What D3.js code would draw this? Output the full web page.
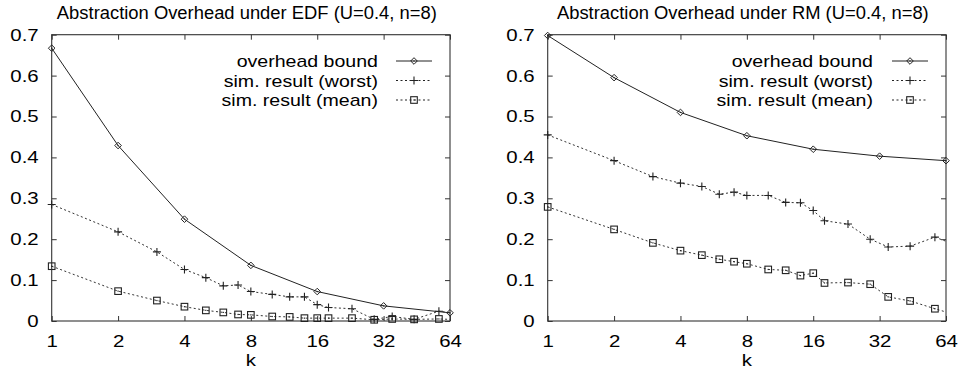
<!DOCTYPE html>
<html><head><meta charset="utf-8">
<script src="https://cdn.jsdelivr.net/npm/d3@7/dist/d3.min.js"></script>
<style>
body{margin:0;background:#fff}
svg{display:block}
text{font-family:"Liberation Sans",Arial,Helvetica,sans-serif;fill:#000}
</style>
</head><body>
<svg id="c" width="960" height="371"></svg>
<script>
// ---- data ----
const kTicks = [1, 2, 4, 8, 16, 32, 64];
const yTicks = [0, 0.1, 0.2, 0.3, 0.4, 0.5, 0.6, 0.7];
const boundK = [1, 2, 4, 8, 16, 32, 64];
const simK = [1, 2, 3, 4, 5, 6, 7, 8, 10, 12, 14, 16, 18, 23, 29, 35, 44, 57, 64];

const edfBound = [0.667, 0.429, 0.249, 0.136, 0.072, 0.037, 0.020];
const edfWorst = [0.285, 0.218, 0.169, 0.126, 0.106, 0.086, 0.088, 0.072, 0.065, 0.059, 0.059, 0.040, 0.033, 0.030, 0.004, 0.011, 0.004, 0.024, 0.020];
const edfMean  = [0.134, 0.073, 0.050, 0.035, 0.026, 0.021, 0.016, 0.015, 0.011, 0.010, 0.007, 0.007, 0.007, 0.007, 0.003, 0.005, 0.004, 0.005, 0.004];

const rmBound = [0.698, 0.595, 0.510, 0.453, 0.420, 0.403, 0.392];
const rmWorst = [0.455, 0.392, 0.353, 0.337, 0.329, 0.310, 0.315, 0.307, 0.307, 0.290, 0.289, 0.270, 0.245, 0.237, 0.200, 0.181, 0.183, 0.205, 0.195];
const rmMean  = [0.279, 0.224, 0.191, 0.172, 0.161, 0.151, 0.145, 0.140, 0.126, 0.124, 0.111, 0.117, 0.093, 0.094, 0.090, 0.059, 0.049, 0.030, 0.022];

const titles = ["Abstraction Overhead under EDF (U=0.4, n=8)", "Abstraction Overhead under RM (U=0.4, n=8)"];
const legendLabels = ["overhead bound", "sim. result (worst)", "sim. result (mean)"];
const xLabel = "k";

// ---- drawing ----
const svg = d3.select("#c");
const panels = [
  {left: 51.7, right: 450, title: titles[0], bound: edfBound, worst: edfWorst, mean: edfMean, legTextRight: 378, legLine: [396, 432]},
  {left: 547.7, right: 946, title: titles[1], bound: rmBound, worst: rmWorst, mean: rmMean, legTextRight: 873, legLine: [892, 928]}
];
const plotTop = 34.7, plotBottom = 321;

function stretch(sel, f) {
  sel.each(function() {
    const w = this.getComputedTextLength();
    d3.select(this).attr("textLength", w * f).attr("lengthAdjust", "spacingAndGlyphs");
  });
}

function marker(g, type, x, y) {
  const c = "#222";
  if (type === "diamond") {
    g.append("path").attr("d", `M${x},${y-3.3}L${x+3.3},${y}L${x},${y+3.3}L${x-3.3},${y}Z`)
      .attr("fill", "none").attr("stroke", c).attr("stroke-width", 1);
    g.append("rect").attr("x", x-0.6).attr("y", y-0.6).attr("width", 1.2).attr("height", 1.2).attr("fill", c);
  } else if (type === "plus") {
    g.append("path").attr("d", `M${x-4},${y}H${x+4}M${x},${y-4}V${y+4}`)
      .attr("stroke", c).attr("stroke-width", 1.1).attr("fill", "none");
  } else {
    g.append("rect").attr("x", x-3.3).attr("y", y-3.3).attr("width", 6.6).attr("height", 6.6)
      .attr("fill", "none").attr("stroke", c).attr("stroke-width", 1.1);
    g.append("rect").attr("x", x-0.6).attr("y", y-0.6).attr("width", 1.2).attr("height", 1.2).attr("fill", c);
  }
}

panels.forEach(p => {
  const x = d3.scaleLog().base(2).domain([1, 64]).range([p.left, p.right]);
  const y = d3.scaleLinear().domain([0, 0.7]).range([plotBottom, plotTop]);
  const g = svg.append("g");

  // title
  const tt = g.append("text").attr("x", (p.left + p.right) / 2 - 4).attr("y", 19)
    .attr("text-anchor", "middle").style("font-size", "17.5px").text(p.title);
  stretch(tt, 1.05);

  // axes (inward ticks on all sides)
  const ax = g.append("g").attr("transform", `translate(0,${plotBottom})`)
    .call(d3.axisBottom(x).tickValues(kTicks).tickFormat(d3.format("d")).tickSizeInner(-5).tickSizeOuter(0).tickPadding(14));
  const ay = g.append("g").attr("transform", `translate(${p.left},0)`)
    .call(d3.axisLeft(y).tickValues(yTicks).tickFormat(d => d === 0 ? "0" : d3.format(".1f")(d)).tickSizeInner(-5).tickSizeOuter(0).tickPadding(13));
  const at = g.append("g").attr("transform", `translate(0,${plotTop})`)
    .call(d3.axisTop(x).tickValues(kTicks).tickFormat("").tickSizeInner(-5).tickSizeOuter(0));
  const ar = g.append("g").attr("transform", `translate(${p.right},0)`)
    .call(d3.axisRight(y).tickValues(yTicks).tickFormat("").tickSizeInner(-5).tickSizeOuter(0));
  [ax, ay, at, ar].forEach(a => {
    a.select(".domain").remove();
    a.selectAll(".tick line").attr("stroke", "#333");
  });
  [ax, ay].forEach(a => a.selectAll("text").style("font-size", "17px").attr("fill", "#000")
    .style("font-family", '"Liberation Sans",Arial,sans-serif'));
  stretch(ax.selectAll("text"), 1.2);
  stretch(ay.selectAll("text"), 1.2);

  // frame
  g.append("rect").attr("x", p.left).attr("y", plotTop).attr("width", p.right - p.left).attr("height", plotBottom - plotTop)
    .attr("fill", "none").attr("stroke", "#333").attr("stroke-width", 1.1);

  // x label
  const xl = g.append("text").attr("x", x(8)).attr("y", 366).attr("text-anchor", "middle")
    .style("font-size", "17px").text(xLabel);
  stretch(xl, 1.2);

  // lines
  const line = d3.line().x(d => x(d[0])).y(d => y(d[1]));
  const worstPts = simK.map((k, i) => [k, p.worst[i]]);
  const meanPts = simK.map((k, i) => [k, p.mean[i]]);
  const boundPts = boundK.map((k, i) => [k, p.bound[i]]);
  g.append("path").attr("d", line(meanPts)).attr("fill", "none").attr("stroke", "#333").attr("stroke-width", 1).attr("stroke-dasharray", "2,2.5");
  g.append("path").attr("d", line(worstPts)).attr("fill", "none").attr("stroke", "#333").attr("stroke-width", 1).attr("stroke-dasharray", "2,2.5");
  g.append("path").attr("d", line(boundPts)).attr("fill", "none").attr("stroke", "#222").attr("stroke-width", 1);

  // sim points on the right border are not marked (as in the reference)
  meanPts.filter(d => d[0] < 64).forEach(d => marker(g, "square", x(d[0]), y(d[1])));
  worstPts.filter(d => d[0] < 64).forEach(d => marker(g, "plus", x(d[0]), y(d[1])));
  boundPts.forEach(d => marker(g, "diamond", x(d[0]), y(d[1])));

  // legend
  const types = ["diamond", "plus", "square"];
  const rowY = [61, 80.5, 100];
  legendLabels.forEach((lab, i) => {
    const t = g.append("text").attr("x", p.legTextRight).attr("y", rowY[i] + 6).attr("text-anchor", "end")
      .style("font-size", "17px").text(lab);
    stretch(t, 1.15);
    g.append("line").attr("x1", p.legLine[0]).attr("x2", p.legLine[1]).attr("y1", rowY[i]).attr("y2", rowY[i])
      .attr("stroke", "#222").attr("stroke-width", 1).attr("stroke-dasharray", i === 0 ? null : "2,2.5");
    marker(g, types[i], (p.legLine[0] + p.legLine[1]) / 2, rowY[i]);
  });
});
</script>
</body></html>
